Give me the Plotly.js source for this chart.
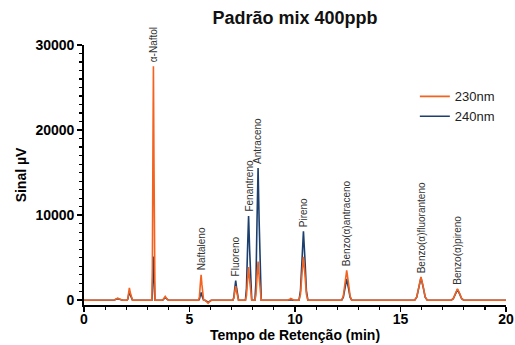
<!DOCTYPE html>
<html>
<head>
<meta charset="utf-8">
<script src="https://cdn.plot.ly/plotly-3.0.1.min.js"></script>
<style>html,body{margin:0;padding:0;background:#fff;}#chart{width:515px;height:345px;}</style>
</head>
<body>
<div id="chart"></div>
<script>
// Retention time (min), shared by both wavelengths
const retentionTime = [
  0.00,
  1.36, 1.44, 1.52, 1.60, 1.68, 1.76, 1.84,
  2.045, 2.08, 2.115, 2.15, 2.195, 2.25, 2.30,
  3.215, 3.24, 3.265, 3.29, 3.315, 3.34, 3.365,
  3.70, 3.75, 3.80, 3.85, 3.90, 3.95, 4.00,
  5.43, 5.47, 5.51, 5.55, 5.59, 5.63, 5.67,
  5.73, 5.78, 5.83, 5.88, 5.93, 5.98, 6.03,
  7.055, 7.10, 7.145, 7.19, 7.235, 7.28, 7.325,
  7.65, 7.70, 7.75, 7.80, 7.85, 7.90, 7.95,
  8.10, 8.15, 8.20, 8.25, 8.30, 8.35, 8.40,
  9.65, 9.70, 9.75, 9.80, 9.85, 9.90, 9.95,
  10.19, 10.26, 10.33, 10.40, 10.47, 10.54, 10.61,
  12.21, 12.29, 12.37, 12.45, 12.53, 12.61, 12.69,
  15.67, 15.77, 15.87, 15.97, 16.07, 16.17, 16.27,
  17.40, 17.50, 17.60, 17.70, 17.80, 17.90, 18.00,
  20.00
];
// Signal (µV) at 230 nm
const signal230 = [
  0,
  0, 35, 150, 250, 150, 35, 0,
  0, 200, 870, 1450, 870, 200, 0,
  0, 3850, 16500, 27500, 16500, 3850, 0,
  0, 60, 270, 450, 270, 60, 0,
  0, 420, 1800, 3000, 1800, 420, 0,
  0, -50, -210, -350, -210, -50, 0,
  0, 230, 990, 1650, 990, 230, 0,
  0, 545, 2340, 3900, 2340, 545, 0,
  0, 640, 2730, 4550, 2730, 640, 0,
  0, 30, 120, 200, 120, 30, 0,
  0, 715, 3060, 5100, 3060, 715, 0,
  0, 490, 2100, 3500, 2100, 490, 0,
  0, 385, 1650, 2750, 1650, 385, 0,
  0, 190, 810, 1350, 810, 190, 0,
  0
];
// Signal (µV) at 240 nm
const signal240 = [
  0,
  0, 25, 110, 180, 110, 25, 0,
  0, 150, 630, 1050, 630, 150, 0,
  0, 720, 3090, 5150, 3090, 720, 0,
  0, 45, 200, 330, 200, 45, 0,
  0, 125, 540, 900, 540, 125, 0,
  0, -35, -150, -250, -150, -35, 0,
  0, 320, 1380, 2300, 1380, 320, 0,
  0, 1390, 5940, 9900, 5940, 1390, 0,
  0, 2180, 9330, 15550, 9330, 2180, 0,
  0, 17, 70, 120, 70, 17, 0,
  0, 1130, 4860, 8100, 4860, 1130, 0,
  0, 350, 1500, 2500, 1500, 350, 0,
  0, 370, 1590, 2650, 1590, 370, 0,
  0, 175, 750, 1250, 750, 175, 0,
  0
];
// Peak labels
const peakNames = ["α-Naftol", "Naftaleno", "Fluoreno", "Fenantreno", "Antraceno", "Pireno",
  "Benzo(α)antraceno", "Benzo(α)fluoranteno", "Benzo(α)pireno"];
const peakTimes = [3.29, 5.55, 7.19, 7.80, 8.25, 10.40, 12.45, 15.97, 17.70];
const peakTops = [27500, 3000, 2300, 9900, 15550, 8100, 3500, 2750, 1350];

const seriesNames = ["230nm", "240nm"];
const colors = {"230nm": "#F4621F", "240nm": "#1C3F6E"};

const traces = [
  {x: retentionTime, y: signal240, name: seriesNames[1], type: "scatter", mode: "lines",
   line: {color: colors["240nm"], width: 1.6}},
  {x: retentionTime, y: signal230, name: seriesNames[0], type: "scatter", mode: "lines",
   line: {color: colors["230nm"], width: 1.6}}
];

const annotations = peakNames.map((n, i) => ({
  x: peakTimes[i], y: peakTops[i], xref: "x", yref: "y",
  text: n, showarrow: false, textangle: -90,
  xanchor: "center", yanchor: "bottom", yshift: 2,
  font: {family: "Liberation Sans, Arial, sans-serif", size: 10, color: "#333"}
}));

const axisFont = {family: "Liberation Sans, Arial, sans-serif", size: 14, color: "#000", weight: "bold"};

const layout = {
  width: 515, height: 345,
  margin: {l: 84, r: 9, t: 45, b: 40},
  paper_bgcolor: "#fff", plot_bgcolor: "#fff",
  showlegend: true,
  title: {text: "<b>Padrão mix 400ppb</b>", x: 0.5, xref: "paper", y: 0.95, yanchor: "middle",
    font: {family: "Liberation Sans, Arial, sans-serif", size: 18, color: "#111"}},
  xaxis: {
    range: [0, 20], dtick: 5, tick0: 0, showgrid: false, zeroline: false,
    showline: true, linecolor: "#000", linewidth: 1.8,
    ticks: "outside", ticklen: 5, tickwidth: 1.5, tickcolor: "#000",
    minor: {dtick: 1, ticks: "outside", ticklen: 3, tickwidth: 1.2, tickcolor: "#000"},
    tickfont: axisFont, ticklabelstandoff: -5,
    title: {text: "Tempo de Retenção (min)", font: axisFont, standoff: 2}
  },
  yaxis: {
    range: [-560, 30000], dtick: 10000, tick0: 0, tickformat: "d", showgrid: false, zeroline: false,
    showline: true, linecolor: "#000", linewidth: 1.8,
    ticks: "outside", ticklen: 5, tickwidth: 1.5, tickcolor: "#000",
    minor: {dtick: 1000, ticks: "outside", ticklen: 3, tickwidth: 1.2, tickcolor: "#000"},
    tickfont: axisFont,
    title: {text: "Sinal µV", font: axisFont, standoff: 5}
  },
  legend: {x: 0.784, y: 0.86, xanchor: "left", yanchor: "top", traceorder: "reversed",
    bgcolor: "rgba(0,0,0,0)", font: {family: "Liberation Sans, Arial, sans-serif", size: 13, color: "#222"},
    tracegroupgap: 0},
  annotations: annotations
};

Plotly.newPlot("chart", traces, layout, {staticPlot: true, displayModeBar: false});
</script>
</body>
</html>
